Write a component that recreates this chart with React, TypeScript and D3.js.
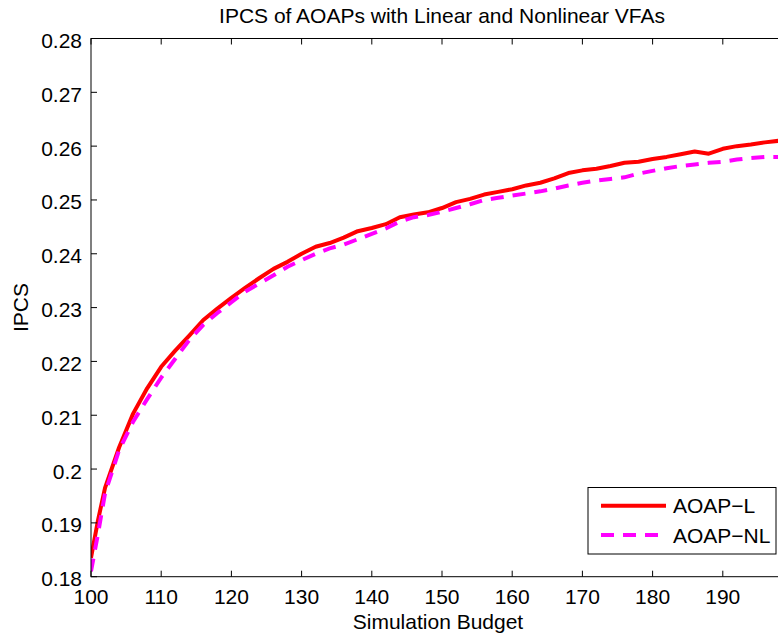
import React from "react";
import * as d3 from "d3";

const budgets = [100, 101, 102, 104, 106, 108, 110, 112, 114, 116, 118, 120, 122, 124, 126, 128, 130, 132, 134, 136, 138, 140, 142, 144, 146, 148, 150, 152, 154, 156, 158, 160, 162, 164, 166, 168, 170, 172, 174, 176, 178, 180, 182, 184, 186, 188, 190, 192, 194, 196, 198, 200];

const aoapL = [0.1835, 0.1905, 0.1965, 0.2040, 0.2103, 0.2150, 0.2190, 0.2220, 0.2248, 0.2277, 0.2298, 0.2318, 0.2337, 0.2355, 0.2372, 0.2385, 0.2400, 0.2413, 0.2420, 0.2430, 0.2442, 0.2448, 0.2455, 0.2468, 0.2473, 0.2477, 0.2485, 0.2496, 0.2502, 0.2510, 0.2515, 0.2520, 0.2527, 0.2532, 0.2540, 0.2550, 0.2555, 0.2558, 0.2563, 0.2569, 0.2571, 0.2576, 0.2580, 0.2585, 0.2590, 0.2586, 0.2595, 0.2600, 0.2603, 0.2607, 0.2610, 0.2612];

const aoapNL = [0.1810, 0.1880, 0.1955, 0.2035, 0.2088, 0.2130, 0.2170, 0.2205, 0.2240, 0.2268, 0.2290, 0.2310, 0.2330, 0.2345, 0.2360, 0.2376, 0.2388, 0.2400, 0.2410, 0.2417, 0.2427, 0.2437, 0.2447, 0.2460, 0.2468, 0.2472, 0.2478, 0.2485, 0.2492, 0.2500, 0.2504, 0.2508, 0.2512, 0.2516, 0.2521, 0.2527, 0.2532, 0.2536, 0.2539, 0.2542, 0.2549, 0.2554, 0.2559, 0.2563, 0.2566, 0.2569, 0.2571, 0.2575, 0.2578, 0.2580, 0.2580, 0.2581];

const xTicks = [100, 110, 120, 130, 140, 150, 160, 170, 180, 190];
const yTicks = [0.18, 0.19, 0.2, 0.21, 0.22, 0.23, 0.24, 0.25, 0.26, 0.27, 0.28];
const seriesNames = ["AOAP\u2212L", "AOAP\u2212NL"];

const W = 778;
const H = 639;
const L = 91;
const R = 793;
const T = 38.5;
const B = 576.7;
const FONT = "'Liberation Sans', Arial, Helvetica, sans-serif";
const FS = 21;

export default function App() {
  const x = d3.scaleLinear().domain([100, 200]).range([L, R]);
  const y = d3.scaleLinear().domain([0.18, 0.28]).range([B, T]);
  const line = d3
    .line<number>()
    .x((_, i) => x(budgets[i]))
    .y((d) => y(d));
  const tickLen = 6;
  const fmtY = (v: number) => String(+v.toFixed(2));

  const lgX = 588, lgY = 487.5, lgW = 188, lgH = 66.5;

  return (
    <svg width={W} height={H} style={{ position: "absolute", left: 0, top: 0, background: "#fff" }} fontFamily={FONT}>
      <rect x={0} y={0} width={W} height={H} fill="#fff" />
      <defs>
        <clipPath id="plotclip">
          <rect x={L} y={T} width={R - L} height={B - T} />
        </clipPath>
      </defs>
      <g clipPath="url(#plotclip)">
        <path d={line(aoapL) || ""} fill="none" stroke="#ff0000" strokeWidth={4} strokeLinejoin="round" />
        <path d={line(aoapNL) || ""} fill="none" stroke="#ff00ff" strokeWidth={4} strokeDasharray="13,9" />
      </g>
      <rect x={L} y={T} width={R - L} height={B - T} fill="none" stroke="#000" strokeWidth={1} />
      {xTicks.map((t) => (
        <g key={"x" + t}>
          <line x1={x(t)} x2={x(t)} y1={B} y2={B - tickLen} stroke="#000" />
          <line x1={x(t)} x2={x(t)} y1={T} y2={T + tickLen} stroke="#000" />
          <text x={x(t)} y={604} textAnchor="middle" fontSize={FS} fill="#000">{t}</text>
        </g>
      ))}
      {yTicks.map((t) => (
        <g key={"y" + t}>
          <line x1={L} x2={L + tickLen} y1={y(t)} y2={y(t)} stroke="#000" />
          <line x1={R} x2={R - tickLen} y1={y(t)} y2={y(t)} stroke="#000" />
          <text x={82} y={y(t) + 9.5} textAnchor="end" fontSize={FS} fill="#000">{fmtY(t)}</text>
        </g>
      ))}
      <text x={(L + R) / 2} y={22.7} textAnchor="middle" fontSize={FS} fill="#000">
        IPCS of AOAPs with Linear and Nonlinear VFAs
      </text>
      <text x={(L + R) / 2 - 4} y={629} textAnchor="middle" fontSize={FS} fill="#000">
        Simulation Budget
      </text>
      <text transform={`translate(28.3,${(T + B) / 2}) rotate(-90)`} textAnchor="middle" fontSize={FS} fill="#000">
        IPCS
      </text>
      <rect x={lgX} y={lgY} width={lgW} height={lgH} fill="#fff" stroke="#000" strokeWidth={1} />
      <line x1={601} x2={666} y1={505.7} y2={505.7} stroke="#ff0000" strokeWidth={4} />
      <line x1={601} x2={666} y1={535} y2={535} stroke="#ff00ff" strokeWidth={4} strokeDasharray="13,9" />
      <text x={673} y={513.3} fontSize={FS} fill="#000">{seriesNames[0]}</text>
      <text x={673} y={543.3} fontSize={FS} fill="#000">{seriesNames[1]}</text>
    </svg>
  );
}
